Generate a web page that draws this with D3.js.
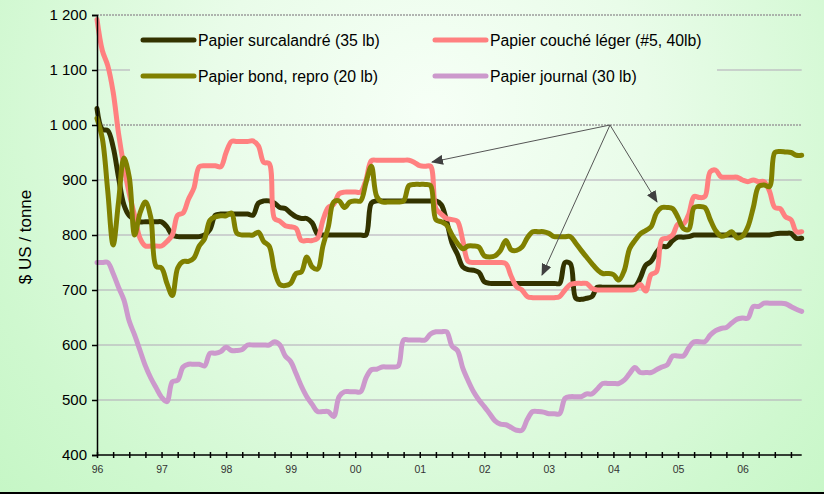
<!DOCTYPE html>
<html><head><meta charset="utf-8">
<script src="https://cdn.jsdelivr.net/npm/d3@7"></script>
<style>html,body{margin:0;padding:0;background:#fff;} svg{display:block;}</style>
</head><body>
<svg id="chart" width="824" height="494"></svg>
<script>
// ---- data (monthly, Jan 1996 .. Dec 2006) ----
const yearLabels = ["96","97","98","99","00","01","02","03","04","05","06"];
const yTicks = [400, 500, 600, 700, 800, 900, 1000, 1100, 1200];
const seriesNames = ["Papier surcalandré (35 lb)", "Papier couché léger (#5, 40lb)", "Papier bond, repro (20 lb)", "Papier journal (30 lb)"];
const seriesColors = ["#333300", "#ff8080", "#808000", "#cc99cc"];

const surcalandre = [
 1030, 992, 990, 960, 905, 855, 835, 828, 824, 824,
 824, 824, 824, 815, 800, 797, 797, 797, 797, 797,
 800, 810, 836, 838, 838, 838, 838, 838, 838, 836,
 858, 862, 862, 858, 850, 848, 840, 833, 830, 830,
 822, 802, 800, 800, 800, 800, 800, 800, 800, 800,
 800, 858, 862, 862, 862, 862, 862, 862, 862, 862,
 862, 862, 862, 862, 855, 825, 785, 765, 742, 737,
 736, 732, 715, 712, 712, 712, 712, 712, 712, 712,
 712, 712, 712, 712, 712, 712, 712, 750, 748, 685,
 683, 685, 688, 705, 705, 705, 705, 705, 705, 705,
 706, 722, 745, 752, 768, 779, 779, 790, 796, 796,
 797, 800, 800, 800, 800, 800, 800, 800, 800, 800,
 800, 800, 800, 800, 800, 800, 802, 803, 803, 803,
 794, 794];

const coucheLeger = [
 1192, 1135, 1108, 1060, 985, 925, 875, 835, 794, 780,
 780, 780, 780, 788, 800, 836, 840, 865, 885, 924,
 926, 926, 926, 924, 950, 970, 970, 970, 970, 971,
 962, 932, 930, 830, 825, 817, 815, 812, 790, 790,
 790, 794, 827, 850, 856, 875, 878, 878, 878, 878,
 900, 935, 936, 936, 936, 936, 936, 936, 936, 932,
 926, 925, 925, 848, 838, 830, 828, 825, 790, 752,
 750, 750, 750, 750, 750, 750, 748, 725, 706, 700,
 688, 686, 686, 686, 686, 686, 688, 700, 710, 712,
 712, 712, 703, 700, 700, 700, 700, 700, 700, 700,
 701, 710, 698, 728, 733, 792, 794, 800, 820, 820,
 838, 870, 868, 870, 915, 918, 906, 905, 905, 905,
 900, 897, 900, 897, 897, 880, 850, 848, 833, 828,
 806, 806];

const bondRepro = [
 1012, 975, 880, 782, 860, 940, 905, 800, 840, 860,
 832, 743, 740, 712, 690, 740, 752, 752, 758, 780,
 793, 827, 833, 835, 835, 840, 803, 800, 800, 800,
 805, 788, 780, 735, 710, 708, 712, 730, 733, 760,
 742, 738, 780, 815, 860, 862, 850, 860, 862, 862,
 895, 925, 870, 860, 860, 860, 860, 862, 890, 892,
 892, 892, 890, 828, 824, 818, 800, 785, 775, 780,
 780, 778, 762, 760, 762, 772, 790, 773, 772, 778,
 795, 806, 806, 806, 803, 797, 797, 797, 797, 785,
 772, 760, 748, 737, 730, 730, 728, 718, 735, 775,
 790, 802, 808, 815, 840, 850, 850, 848, 832, 812,
 810, 850, 852, 850, 828, 808, 798, 800, 806, 795,
 798, 815, 850, 888, 891, 888, 950, 952, 951, 950,
 945, 945];

const journal = [
 750, 750, 750, 730, 705, 682, 643, 618, 590, 562,
 540, 522, 505, 497, 533, 536, 560, 565, 565, 565,
 562, 585, 585, 588, 596, 590, 590, 592, 600, 600,
 600, 600, 600, 606, 600, 580, 570, 548, 525, 506,
 492, 479, 479, 479, 470, 506, 515, 515, 515, 515,
 540, 555, 556, 560, 560, 560, 562, 609, 609, 609,
 609, 609, 620, 624, 624, 624, 598, 590, 558, 535,
 515, 500, 488, 475, 462, 456, 455, 450, 445, 445,
 465, 479, 479, 478, 475, 475, 475, 503, 506, 506,
 506, 511, 511, 520, 530, 530, 530, 530, 536, 548,
 559, 550, 550, 550, 555, 560, 564, 580, 580, 580,
 595, 606, 606, 606, 618, 626, 630, 632, 640, 647,
 649, 649, 670, 670, 676, 676, 676, 676, 675, 670,
 665, 661];

const seriesData = [surcalandre, coucheLeger, bondRepro, journal];

// ---- drawing ----
const svg = d3.select("#chart");
const W = 824, H = 494;
const defs = svg.append("defs");

const grad = defs.append("radialGradient").attr("id", "bg")
  .attr("gradientUnits", "userSpaceOnUse")
  .attr("cx", 430).attr("cy", 110).attr("r", 620);
grad.append("stop").attr("offset", 0).attr("stop-color", "#f6fff6");
grad.append("stop").attr("offset", 0.35).attr("stop-color", "#e9fce9");
grad.append("stop").attr("offset", 0.75).attr("stop-color", "#cff8cf");
grad.append("stop").attr("offset", 1).attr("stop-color", "#c2f6c2");

defs.append("marker").attr("id", "arrow")
  .attr("markerUnits", "userSpaceOnUse")
  .attr("markerWidth", 12).attr("markerHeight", 10)
  .attr("refX", 11).attr("refY", 5)
  .attr("orient", "auto")
  .append("path").attr("d", "M0,0 L12,5 L0,10 Z").attr("fill", "#404040");

svg.append("rect").attr("width", W).attr("height", H).attr("fill", "url(#bg)");

const x = d3.scaleLinear().domain([0, 131]).range([97, 801.7]);
const y = d3.scaleLinear().domain([400, 1200]).range([455, 15]);

// gridlines
svg.append("g").selectAll("line")
  .data(yTicks.filter(v => v > 400))
  .join("line")
  .attr("x1", x(0)).attr("x2", x(131))
  .attr("y1", d => y(d)).attr("y2", d => y(d))
  .attr("stroke", d => (d === 1200 || d === 1000) ? "#9c9c9c" : "#b2a8b8")
  .attr("stroke-width", d => (d === 1200 || d === 1000) ? 1.5 : 1.2)
  .attr("stroke-dasharray", d => (d === 1200 || d === 1000) ? "2,1" : null);

// series lines
const line = d3.line()
  .x((d, i) => x(i))
  .y(d => y(d))
  .curve(d3.curveCatmullRom.alpha(0.5));

svg.append("g").selectAll("path")
  .data(seriesData)
  .join("path")
  .attr("d", d => line(d))
  .attr("fill", "none")
  .attr("stroke", (d, i) => seriesColors[i])
  .attr("stroke-width", 5)
  .attr("stroke-linejoin", "round")
  .attr("stroke-linecap", "round");

// axes
const yAxis = d3.axisLeft(y).tickValues(yTicks).tickSize(5).tickPadding(5)
  .tickFormat(d => d3.format(",")(d).replace(",", " "));
const gy = svg.append("g").attr("transform", `translate(${x(0)},0)`).call(yAxis);
gy.select(".domain").attr("stroke", "#000").attr("stroke-width", 1.5);
gy.selectAll(".tick line").attr("stroke", "#000").attr("stroke-width", 1.5);
gy.selectAll("text").attr("font-family", "Liberation Sans, Arial, sans-serif")
  .attr("font-size", 15).attr("fill", "#000");

const qTicks = d3.range(0, 131, 3);
const xAxis = d3.axisBottom(x).tickValues(qTicks).tickSize(3).tickPadding(0)
  .tickFormat(i => i % 12 === 0 ? yearLabels[i / 12] : "");
const gx = svg.append("g").attr("transform", `translate(0,${y(400)})`).call(xAxis);
gx.select(".domain").attr("stroke", "#000").attr("stroke-width", 1.5)
  .attr("d", `M${x(0)},0H${x(131)}`);
gx.selectAll(".tick line").attr("y1", -3).attr("y2", 3).attr("stroke", "#000").attr("stroke-width", 1.5);
gx.selectAll("text").attr("y", 11)
  .attr("font-family", "Liberation Sans Narrow, Arial Narrow, Liberation Sans, sans-serif")
  .attr("font-size", 10.5).attr("fill", "#333");

// y axis title
svg.append("text")
  .attr("transform", "translate(31,237) rotate(-90)")
  .attr("text-anchor", "middle")
  .attr("font-family", "Liberation Sans, Arial, sans-serif")
  .attr("font-size", 17).attr("fill", "#000")
  .text("$ US / tonne");

// legend
const legend = svg.append("g");
legend.append("rect").attr("x", 130).attr("y", 24).attr("width", 587).attr("height", 72)
  .attr("fill", "url(#bg)");
const legendPos = [
  {lx: 143, ly: 40}, {lx: 435, ly: 40},
  {lx: 143, ly: 76}, {lx: 435, ly: 76}
];
seriesNames.forEach((name, i) => {
  const p = legendPos[i];
  legend.append("line")
    .attr("x1", p.lx).attr("x2", p.lx + 51).attr("y1", p.ly).attr("y2", p.ly)
    .attr("stroke", seriesColors[i]).attr("stroke-width", 5).attr("stroke-linecap", "round");
  legend.append("text")
    .attr("x", p.lx + 55).attr("y", p.ly + 6)
    .attr("font-family", "Liberation Sans, Arial, sans-serif")
    .attr("font-size", 15.8).attr("fill", "#000")
    .text(name);
});

// annotation arrows
const src = [610, 125];
const tips = [[432, 162], [542, 275], [657, 202]];
svg.append("g").selectAll("line").data(tips).join("line")
  .attr("x1", src[0]).attr("y1", src[1])
  .attr("x2", d => d[0]).attr("y2", d => d[1])
  .attr("stroke", "#555").attr("stroke-width", 1)
  .attr("marker-end", "url(#arrow)");

// bottom frame line
svg.append("line").attr("x1", 0).attr("x2", W).attr("y1", 493).attr("y2", 493)
  .attr("stroke", "#000").attr("stroke-width", 2);
</script>
</body></html>
